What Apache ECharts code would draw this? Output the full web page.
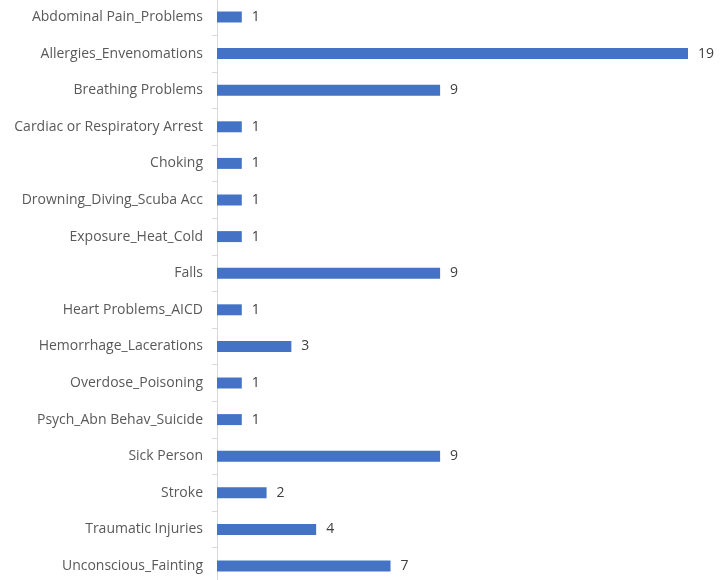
<!DOCTYPE html>
<html><head><meta charset="utf-8">
<script src="https://cdn.jsdelivr.net/npm/echarts@6/dist/echarts.min.js"></script>
<style>html,body{margin:0;padding:0;background:#fff}#c{width:727px;height:580px}</style>
</head><body><div id="c"></div>
<script>
const categories = ["Abdominal Pain_Problems","Allergies_Envenomations","Breathing Problems","Cardiac or Respiratory Arrest","Choking","Drowning_Diving_Scuba Acc","Exposure_Heat_Cold","Falls","Heart Problems_AICD","Hemorrhage_Lacerations","Overdose_Poisoning","Psych_Abn Behav_Suicide","Sick Person","Stroke","Traumatic Injuries","Unconscious_Fainting"];
const values = [1,19,9,1,1,1,1,9,1,3,1,1,9,2,4,7];

const chart = echarts.init(document.getElementById('c'));
chart.setOption({
  animation: false,
  grid: {left: 217, top: -1.3, width: 495.8, height: 585.6, containLabel: false, outerBoundsMode: 'none'},
  xAxis: {type: 'value', min: 0, max: 20, show: false},
  yAxis: {
    type: 'category', inverse: true, data: categories,
    axisLine: {show: true, lineStyle: {color: '#d9d9d9', width: 1}},
    axisTick: {show: true, length: 5, lineStyle: {color: '#d9d9d9'}},
    axisLabel: {color: '#595959', fontSize: 14, fontFamily: 'Open Sans, Liberation Sans, sans-serif', margin: 14}
  },
  series: [{
    type: 'bar', data: values, barCategoryGap: '70%',
    itemStyle: {color: '#4472C4'},
    label: {show: true, position: 'right', distance: 10, color: '#404040', fontSize: 14, fontFamily: 'Open Sans, Liberation Sans, sans-serif'}
  }]
});
</script></body></html>
